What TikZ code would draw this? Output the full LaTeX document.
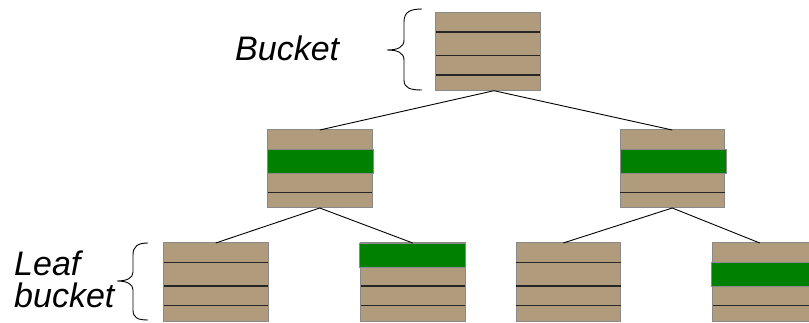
\documentclass[tikz,border=0pt]{standalone}
\usepackage{fontspec}
\setmainfont{Liberation Sans}
\definecolor{tan}{HTML}{B09B7C}
\definecolor{band}{HTML}{008000}
\definecolor{edge}{HTML}{8A8A8A}
\begin{document}
\begin{tikzpicture}[x=1pt,y=-1pt,
  bucketbox/.style={draw=edge,line width=1pt,fill=tan,minimum width=104.5pt,minimum height=78pt,inner sep=0pt,outer sep=0pt,anchor=north west},
  slotline/.style={line width=1.5pt,draw=black!85},
  greenband/.style={draw=edge,line width=0.8pt,fill=band},
  conn/.style={line width=0.9pt,draw=black},
  brace/.style={line width=0.9pt,draw=black},
  lbl/.style={font=\itshape\fontsize{34}{39}\selectfont,inner sep=0pt,anchor=base west}]
\useasboundingbox (0,0) rectangle (809,323);
\fill[white] (0,0) rectangle (809,323);
% buckets
\node[bucketbox] (b0) at (435.7,12.7) {};
\node[bucketbox] (m1) at (267.5,130) {};
\node[bucketbox] (m2) at (620,130) {};
\node[bucketbox] (l1) at (163.5,243) {};
\node[bucketbox] (l2) at (360.5,243) {};
\node[bucketbox] (l3) at (516,243) {};
\node[bucketbox] (l4) at (712.5,243) {};
% slot lines
\foreach \b in {b0,m1,m2,l1,l2,l3,l4}{
  \foreach \o in {19.5,42.8,62.5}{
    \draw[slotline] ([yshift=-\o pt]\b.north west) -- ([yshift=-\o pt]\b.north east);
  }
}
% green bands
\draw[greenband] ([yshift=-19pt]m1.north west) rectangle ([xshift=1.5pt,yshift=-43pt]m1.north east);
\draw[greenband] ([yshift=-19pt]m2.north west) rectangle ([xshift=1.5pt,yshift=-43pt]m2.north east);
\draw[greenband] ([xshift=-1.5pt]l2.north west) rectangle ([yshift=-24pt]l2.north east);
\draw[greenband] ([xshift=-1.5pt,yshift=-19.5pt]l4.north west) rectangle ([xshift=4pt,yshift=-43.5pt]l4.north east);
% connectors
\draw[conn] ([xshift=6pt]b0.south) -- (m1.north);
\draw[conn] ([xshift=6pt]b0.south) -- (m2.north);
\draw[conn] (m1.south) -- (l1.north);
\draw[conn] (m1.south) -- (l2.north);
\draw[conn] (m2.south) -- ([xshift=-5pt]l3.north);
\draw[conn] (m2.south) -- ([xshift=-5pt]l4.north);
% braces
\draw[brace] (422,9) .. controls (410,9) and (404,12) .. (404,22) -- (404,40)
  .. controls (404,47) and (398,50) .. (387,50)
  .. controls (398,50) and (404,53) .. (404,60) -- (404,80)
  .. controls (404,88) and (410,90) .. (422,90);
\draw[brace] (148,243) .. controls (138,243) and (133,246) .. (133,255) -- (133,272)
  .. controls (133,278) and (127,281) .. (117,281)
  .. controls (127,281) and (133,284) .. (133,290) -- (133,310)
  .. controls (133,318) and (138,320) .. (148,320);
% labels
\node[lbl] (tb) at (235,61) {Bucket};
\node[lbl] (tl1) at (14,276) {Leaf};
\node[lbl] (tl2) at (14,308) {bucket};
\end{tikzpicture}
\end{document}
